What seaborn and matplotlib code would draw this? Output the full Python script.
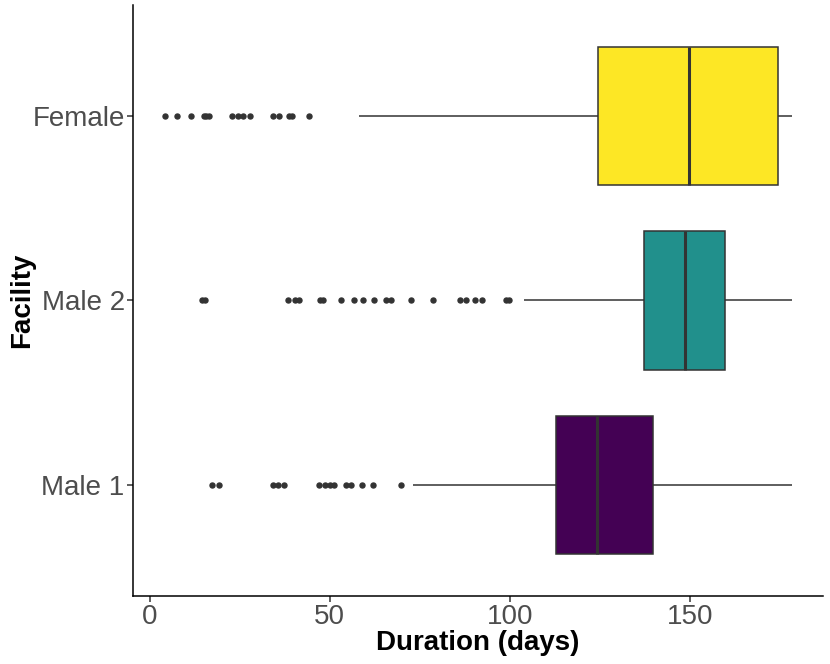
import matplotlib
matplotlib.use('Agg')
import matplotlib.pyplot as plt
import seaborn as sns
import pandas as pd

# Facilities, top to bottom
facilities = ['Female', 'Male 2', 'Male 1']
colors = ['#FDE725', '#21908C', '#440154']

# Five-number summary (days)
whisker_low = [58.2, 103.9, 73.1]
q1 = [124.4, 137.1, 112.7]
median = [149.6, 148.7, 124.1]
q3 = [174.5, 159.6, 139.6]
whisker_high = [178.4, 178.4, 178.4]

# Outlying stays
outliers_female = [4.2, 7.5, 11.4, 15.0, 15.8, 16.6, 23.0, 24.5, 25.8, 27.8,
                   34.2, 35.9, 38.6, 39.5, 44.3]
outliers_male2 = [14.6, 15.4, 38.5, 40.3, 41.4, 47.4, 48.2, 53.0, 56.7, 59.2,
                  62.2, 65.7, 67.0, 72.6, 78.6, 86.1, 87.9, 90.3, 92.3,
                  98.9, 99.8]
outliers_male1 = [17.4, 19.4, 34.2, 35.6, 37.3, 47.1, 48.8, 50.1, 51.2, 54.6,
                  56.0, 58.9, 61.9, 69.8]
outliers = [outliers_female, outliers_male2, outliers_male1]

# build a sample per facility that reproduces the summary
rows = []
k = 200
for i, fac in enumerate(facilities):
    vals = (list(outliers[i]) + [whisker_low[i]] + [q1[i]] * k + [median[i]] * k
            + [q3[i]] * k + [whisker_high[i]])
    rows += [(fac, v) for v in vals]
df = pd.DataFrame(rows, columns=['Facility', 'Duration'])

sns.set_style('white')
plt.rcParams['font.family'] = ['Liberation Sans', 'DejaVu Sans']

fig = plt.figure(figsize=(8.3, 6.64), dpi=100)
ax = fig.add_axes([0.1602, 0.1024, 0.8314, 0.8901])

sns.boxplot(data=df, x='Duration', y='Facility', order=facilities,
            hue='Facility', hue_order=facilities, palette=colors, legend=False,
            saturation=1, width=0.75, whis=1.5, showcaps=False, ax=ax,
            boxprops=dict(edgecolor='#333333', linewidth=1.1),
            whiskerprops=dict(color='#333333', linewidth=1.1),
            medianprops=dict(color='#333333', linewidth=2.2),
            flierprops=dict(marker='o', markersize=3.6, markerfacecolor='#333333',
                            markeredgecolor='#333333', linestyle='none'))

ax.set_xlim(-4.6, 186.9)
ax.set_ylim(2.6, -0.6)
ax.set_xticks([0, 50, 100, 150])
for s in ['top', 'right']:
    ax.spines[s].set_visible(False)
for s in ['left', 'bottom']:
    ax.spines[s].set_color('black')
    ax.spines[s].set_linewidth(1.1)
ax.tick_params(axis='both', which='both', length=4, width=1.1, color='#333333',
               labelsize=20, labelcolor='#4D4D4D', left=True, bottom=True, pad=2)
ax.set_xlabel('Duration (days)', fontsize=20, fontweight='bold', color='black', labelpad=0)
ax.set_ylabel('Facility', fontsize=20, fontweight='bold', color='black', labelpad=3)
ax.yaxis.set_label_coords(-0.142, 0.5)

fig.savefig('out.png', dpi=100)
